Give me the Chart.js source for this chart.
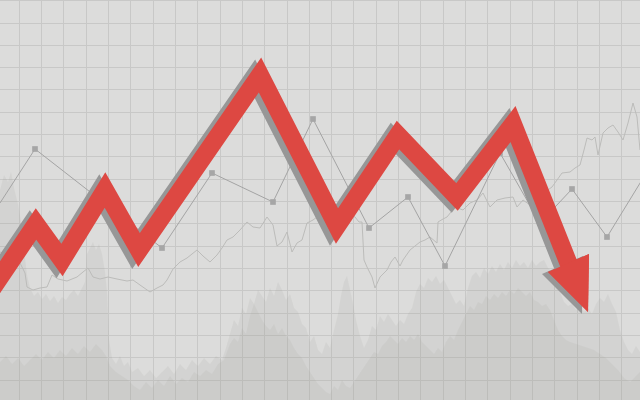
<!DOCTYPE html>
<html>
<head>
<meta charset="utf-8">
<script src="https://cdn.jsdelivr.net/npm/chart.js@4/dist/chart.umd.min.js"></script>
<style>
html,body{margin:0;padding:0;background:#dcdcdb;overflow:hidden;}
canvas{display:block;}
</style>
</head>
<body>
<canvas id="c" width="640" height="400"></canvas>
<script>
// ---- data (x = time, y = value) ----
const trendX = [-10, 36, 62, 105, 139, 260, 337, 398, 457, 513, 572];
const trendY = [108, 176, 140, 210, 150, 325, 174, 265, 203, 276, 128];

const headX = [548, 588, 589];
const headY = [128, 88, 146];

const markerX = [0, 35, 162, 212, 273, 313, 369, 408, 445, 500, 540, 572, 607, 645];
const markerY = [197, 251, 152, 227, 198, 281, 172, 203, 134, 247, 177, 211, 163, 225];

const priceX = [0,8,14,20,25,27,33,40,47,52,58,67,77,83,88,93,100,108,117,127,133,140,150,157,163,167,173,180,187,197,203,210,217,222,227,233,240,247,253,260,267,273,277,282,287,292,297,302,307,313,317,323,330,338,345,350,355,359,362,364,367,372,375,380,387,391,395,400,403,410,415,420,425,430,437,438,443,447,451,455,463,470,477,483,490,497,505,513,517,523,530,536,545,552,557,562,570,575,580,584,587,592,595,598,603,608,613,618,623,628,633,637,640];
const priceY = [148,145,142,137,127,113,110,112,113,125,121,119,123,128,132,123,121,123,121,119,120,115,108,112,115,120,131,138,142,150,144,138,145,152,160,163,170,178,173,172,183,175,154,158,168,148,157,160,177,180,183,178,185,188,190,186,183,178,178,140,133,123,112,123,130,138,143,134,140,150,154,158,160,163,157,178,181,183,188,193,190,197,200,207,193,200,202,203,193,200,195,201,208,213,220,227,228,232,235,250,262,260,263,245,267,272,275,268,260,277,297,283,250];

const volMidX = [0,4,8,11,14,18,21,24,27,30,34,38,42,46,50,54,58,62,66,70,74,78,82,85,87,90,93,96,99,102,105,107,109,112,116,120,124,128,132,138,144,150,156,162,168,174,180,186,192,198,204,210,216,222,226,230,234,238,242,246,250,254,258,262,266,270,274,278,282,286,290,294,298,302,306,310,314,318,322,326,330,334,338,341,344,347,350,353,356,360,364,368,372,376,380,384,388,392,396,400,404,408,412,416,420,424,428,432,436,440,444,448,452,456,460,464,468,472,476,480,484,488,492,496,500,504,508,512,516,520,524,528,532,536,540,544,548,552,556,560,564,568,572,576,580,584,588,592,596,600,604,608,612,616,620,624,628,632,636,640];
const volMidY = [210,225,218,228,212,196,178,150,125,112,104,108,101,106,99,104,97,103,100,106,110,104,112,118,146,152,158,150,156,146,128,108,60,42,36,44,34,38,28,32,24,30,22,28,34,26,36,30,40,34,42,36,44,40,52,66,80,74,92,86,102,96,110,104,98,112,104,118,110,100,106,92,88,76,72,58,64,50,46,58,52,70,86,104,118,124,110,96,80,64,52,60,74,70,84,78,86,80,74,80,76,86,92,108,116,112,122,118,124,116,120,112,104,96,100,94,112,124,128,122,132,126,134,128,136,130,138,132,140,134,138,132,140,134,138,140,132,128,118,108,98,94,96,90,94,88,92,86,96,102,98,106,96,88,70,58,50,46,54,48];

const volLowX = [0,6,12,18,24,30,36,42,48,54,60,66,72,78,84,90,96,102,106,110,116,122,128,134,140,146,152,158,164,170,176,182,188,194,200,206,212,218,224,230,234,238,242,246,250,254,258,262,266,270,274,278,282,286,290,294,298,302,306,310,314,318,322,326,330,334,338,342,346,350,354,358,362,366,370,374,378,382,386,390,394,398,402,406,410,414,418,422,426,430,434,438,442,446,450,454,458,462,466,470,474,478,482,486,490,494,498,502,506,510,514,518,522,526,530,534,538,542,546,550,554,558,562,566,570,576,582,588,594,600,606,612,618,624,630,636,640];
const volLowY = [38,44,36,42,34,40,46,40,48,42,50,44,52,46,54,48,56,50,44,34,28,24,20,14,10,18,12,20,14,24,16,22,18,28,24,30,26,36,40,56,62,58,72,66,84,96,88,80,74,70,76,66,72,64,60,52,46,42,34,28,22,16,12,8,6,14,10,20,14,12,18,24,30,36,42,48,46,54,58,64,60,56,62,58,64,60,66,58,54,50,46,52,48,58,64,60,70,78,86,94,90,98,96,104,100,106,102,108,104,110,106,112,108,104,108,100,98,94,96,90,80,70,64,60,58,56,54,52,50,46,42,36,30,22,18,24,28];

// ---- style ----
const RED = '#dd4842';
const SHADOW = '#979797';
const BG = '#dcdcdb';
const GRID_X0 = 19.3, GRID_Y0 = 20, GRID_STEP = 22.31;

function pts(xs, ys){ return xs.map((x,i)=>({x:x, y:ys[i]})); }

const xGrid = []; for (let v = GRID_X0; v <= 640; v += GRID_STEP) xGrid.push(v);
const yGrid = []; for (let v = GRID_Y0; v <= 400; v += GRID_STEP) yGrid.push(v);

const TREND_INDEX = 0;

function drawHead(chart, withShadow){
  const ctx = chart.ctx, sx = chart.scales.x, sy = chart.scales.y;
  ctx.save();
  ctx.beginPath();
  headX.forEach((v,i)=>{
    const px = sx.getPixelForValue(v), py = sy.getPixelForValue(headY[i]);
    if (i) ctx.lineTo(px,py); else ctx.moveTo(px,py);
  });
  ctx.closePath();
  if (withShadow){
    ctx.shadowColor = SHADOW; ctx.shadowOffsetX = -6; ctx.shadowOffsetY = 2; ctx.shadowBlur = 0;
  }
  ctx.fillStyle = RED;
  ctx.fill();
  ctx.restore();
}

const bgPlugin = {
  id:'bg',
  beforeDraw(chart){
    const ctx = chart.ctx;
    ctx.save(); ctx.fillStyle = BG; ctx.fillRect(0,0,chart.width,chart.height); ctx.restore();
  }
};

const arrowPlugin = {
  id:'arrowShadow',
  beforeDatasetDraw(chart, args){
    if (args.index !== TREND_INDEX) return;
    drawHead(chart, true);
    const ctx = chart.ctx;
    ctx.save();
    ctx.shadowColor = SHADOW; ctx.shadowOffsetX = -6; ctx.shadowOffsetY = 2; ctx.shadowBlur = 0;
  },
  afterDatasetDraw(chart, args){
    if (args.index !== TREND_INDEX) return;
    chart.ctx.restore();
    drawHead(chart, false);
  }
};

new Chart(document.getElementById('c').getContext('2d'), {
  type:'line',
  data:{
    datasets:[
      { data: pts(trendX, trendY), borderColor: RED, borderWidth: 18, borderJoinStyle:'miter', borderCapStyle:'butt', pointRadius:0, fill:false, tension:0 },
      { data: pts(markerX, markerY), borderColor:'#a4a4a4', borderWidth:1, pointStyle:'rect',
        pointRadius: markerX.map((x,i)=> (i===0 || i===markerX.length-1) ? 0 : 4),
        pointBackgroundColor:'#a6a6a6', pointBorderWidth:0, fill:false, tension:0 },
      { data: pts(priceX, priceY), borderColor:'#bcbcba', borderWidth:1, pointRadius:0, fill:false, tension:0 },
      { data: pts(volLowX, volLowY), borderWidth:0, borderColor:'rgba(0,0,0,0)', backgroundColor:'rgba(150,150,140,0.10)', pointRadius:0, fill:'origin', tension:0 },
      { data: pts(volMidX, volMidY), borderWidth:0, borderColor:'rgba(0,0,0,0)', backgroundColor:'rgba(150,150,140,0.11)', pointRadius:0, fill:'origin', tension:0 }
    ]
  },
  options:{
    responsive:false,
    animation:false,
    devicePixelRatio:1,
    layout:{padding:0},
    events:[],
    plugins:{ legend:{display:false}, tooltip:{enabled:false} },
    scales:{
      x:{ type:'linear', min:0, max:640,
          ticks:{display:false, includeBounds:false},
          grid:{color:'#c8c8c7', lineWidth:1, drawTicks:false},
          border:{display:false},
          afterBuildTicks(s){ s.ticks = xGrid.map(v=>({value:v})); } },
      y:{ type:'linear', min:0, max:400,
          ticks:{display:false, includeBounds:false},
          grid:{color:'#c8c8c7', lineWidth:1, drawTicks:false},
          border:{display:false},
          afterBuildTicks(s){ s.ticks = yGrid.map(v=>({value:v})); } }
    }
  },
  plugins:[bgPlugin, arrowPlugin]
});
</script>
</body>
</html>
